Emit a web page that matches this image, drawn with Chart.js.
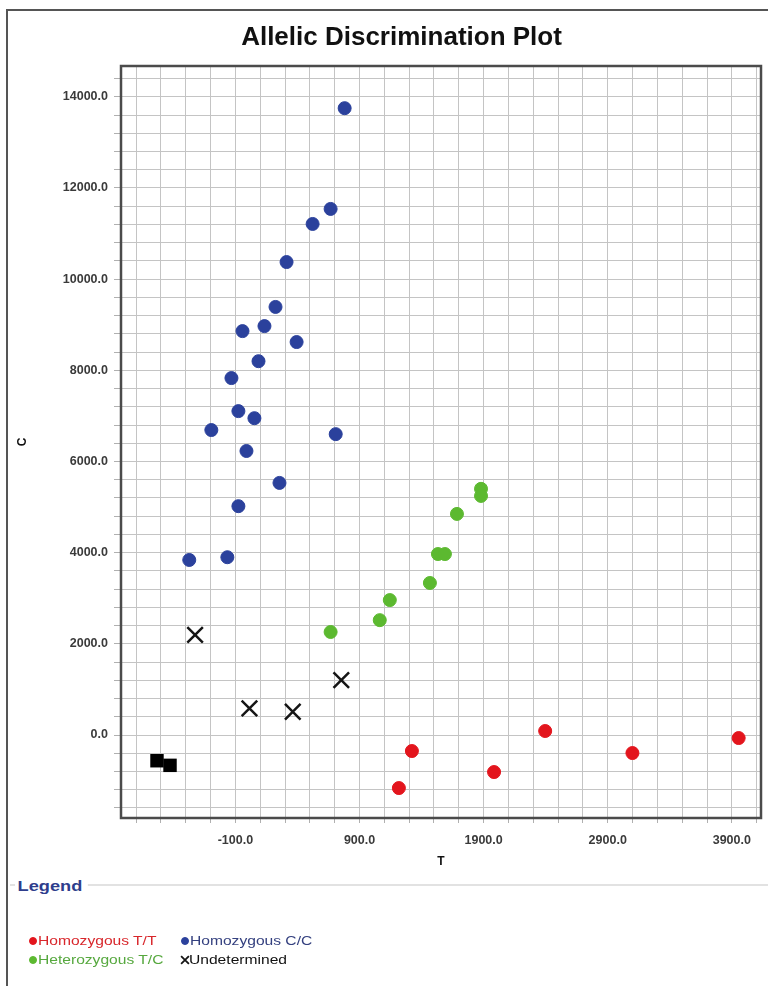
<!DOCTYPE html>
<html>
<head>
<meta charset="utf-8">
<script src="https://cdn.jsdelivr.net/npm/chart.js@4/dist/chart.umd.min.js"></script>
<style>
  html, body { margin: 0; padding: 0; background: #fff; }
  body { width: 768px; height: 986px; position: relative; overflow: hidden; font-family: 'Liberation Sans', Arial, sans-serif; }
  #frame { position: absolute; left: 6px; top: 9px; width: 780px; height: 1000px; border-top: 2px solid #555; border-left: 2px solid #555; }
  #chart { position: absolute; left: 0; top: 0; }
  #legendRule { position: absolute; left: 10px; top: 884px; width: 758px; height: 2px; background: #e2e2e2; }
  #legendTitle { position: absolute; left: 15px; top: 878px; padding: 0 4px 0 2px; background: #fff; font-weight: bold; font-size: 14px; line-height: 16px; color: #2e3d8c; transform: scaleX(1.3); transform-origin: left center; }
  .mark { position: absolute; }
  .txt { position: absolute; font-size: 13px; line-height: 16px; white-space: nowrap; transform: scaleX(1.2); transform-origin: left center; }
</style>
</head>
<body>
<div id="frame"></div>
<canvas id="chart" width="768" height="880"></canvas>
<div id="legendRule"></div>
<div id="legendTitle">Legend</div>
<div id="legend"></div>
<script>
// Homozygous T/T (red)
const ttX = [3955, 2396, 3099, 1322, 1984, 1217];
const ttY = [-66, 88, -395, -351, -812, -1163];

// Homozygous C/C (blue)
const ccX = [780, 667, 522, 312, 223, 134, -43, 393, 86, -132, -76, 53, -294, 708, -11, 255, -76, -165, -472];
const ccY = [13750, 11540, 11210, 10375, 9390, 8970, 8860, 8620, 8200, 7830, 7105, 6950, 6690, 6600, 6230, 5530, 5020, 3900, 3840];

// Heterozygous T/C (green)
const tcX = [1879, 1879, 1685, 1532, 1588, 1467, 1144, 1063, 667];
const tcY = [5400, 5245, 4850, 3970, 3970, 3335, 2960, 2520, 2260];

// Undetermined (x)
const undX = [-425, 753, 13, 362];
const undY = [2195, 1206, 586, 511];

// no template controls (black squares)
const ntcX = [-732, -627];
const ntcY = [-564, -665];

// axes
const xMin = -1022, xMax = 4135, xGridStep = 200;
const yMin = -1820, yMax = 14675, yGridStep = 400;
const xLabelTicks = [-100, 900, 1900, 2900, 3900];
const yLabelTicks = [0, 2000, 4000, 6000, 8000, 10000, 12000, 14000];

function toPoints(xs, ys) {
    return xs.map((x, i) => ({ x: x, y: ys[i] }));
}

// grid lines run through the labelled ticks every step
function gridValues(labels, step, min, max) {
    const out = [];
    let v = labels[0];
    while (v - step >= min) v -= step;
    for (; v <= max; v += step) out.push(v);
    return out;
}

const plotBorder = {
    id: 'plotBorder',
    beforeDatasetsDraw(chart) {
        const { ctx, chartArea: a } = chart;
        ctx.save();
        ctx.strokeStyle = '#4b4b4b';
        ctx.lineWidth = 2.5;
        ctx.strokeRect(a.left, a.top, a.right - a.left, a.bottom - a.top);
        ctx.restore();
    }
};

Chart.defaults.font.family = "'Liberation Sans', Arial, sans-serif";

const tickFont = { size: 12.5, weight: 'bold' };

const chart = new Chart(document.getElementById('chart').getContext('2d'), {
    type: 'scatter',
    data: {
        datasets: [
            {
                label: 'Homozygous T/T',
                data: toPoints(ttX, ttY),
                backgroundColor: '#e3151d',
                borderColor: '#e3151d',
                pointRadius: 6.5,
                borderWidth: 1,
                textColor: '#d8262b',
                inLegend: true,
            },
            {
                label: 'Homozygous C/C',
                data: toPoints(ccX, ccY),
                backgroundColor: '#2b419c',
                borderColor: '#2b419c',
                pointRadius: 6.5,
                borderWidth: 1,
                textColor: '#34407f',
                inLegend: true,
            },
            {
                label: 'Heterozygous T/C',
                data: toPoints(tcX, tcY),
                backgroundColor: '#5cb930',
                borderColor: '#5cb930',
                pointRadius: 6.5,
                borderWidth: 1,
                textColor: '#56a83e',
                inLegend: true,
            },
            {
                label: 'Undetermined',
                data: toPoints(undX, undY),
                pointStyle: 'crossRot',
                borderColor: '#151515',
                pointRadius: 11,
                borderWidth: 2.5,
                textColor: '#111',
                inLegend: true,
            },
            {
                label: 'NTC',
                data: toPoints(ntcX, ntcY),
                pointStyle: 'rect',
                backgroundColor: '#000',
                borderColor: '#000',
                pointRadius: 9.5,
                borderWidth: 0,
                inLegend: false,
            },
        ],
    },
    options: {
        responsive: false,
        animation: false,
        layout: { autoPadding: false, padding: { top: 12, left: 42, right: 7, bottom: 2 } },
        plugins: {
            legend: { display: false },
            tooltip: { enabled: false },
            title: {
                display: true,
                text: 'Allelic Discrimination Plot',
                color: '#111',
                font: { size: 26, weight: 'bold', lineHeight: 1.2 },
                padding: { top: 10, bottom: 12.8 },
            },
        },
        scales: {
            x: {
                type: 'linear',
                min: xMin,
                max: xMax,
                afterBuildTicks: (axis) => {
                    axis.ticks = gridValues(xLabelTicks, xGridStep, xMin, xMax).map(v => ({ value: v }));
                },
                afterFit: (axis) => {
                    axis.height = 60;
                    axis.paddingLeft = 0;
                    axis.paddingRight = 0;
                },
                ticks: {
                    autoSkip: false,
                    maxRotation: 0,
                    minRotation: 0,
                    padding: 10,
                    color: '#3a3a3a',
                    font: tickFont,
                    callback: (v) => xLabelTicks.includes(v) ? v.toFixed(1) : '',
                },
                grid: { color: '#c4c4c4', lineWidth: 1, tickLength: 5, tickColor: '#b0b0b0' },
                border: { display: false },
                title: {
                    display: true,
                    text: 'T',
                    color: '#111',
                    font: { size: 12, weight: 'bold' },
                    padding: { top: 0, bottom: 9 },
                },
            },
            y: {
                type: 'linear',
                min: yMin,
                max: yMax,
                afterBuildTicks: (axis) => {
                    axis.ticks = gridValues(yLabelTicks, yGridStep, yMin, yMax).map(v => ({ value: v }));
                },
                afterFit: (axis) => { axis.width = 79; },
                ticks: {
                    autoSkip: false,
                    padding: 6,
                    color: '#3a3a3a',
                    font: tickFont,
                    callback: (v) => yLabelTicks.includes(v) ? v.toFixed(1) : '',
                },
                grid: { color: '#c4c4c4', lineWidth: 1, tickLength: 7, tickColor: '#b0b0b0' },
                border: { display: false },
                title: {
                    display: true,
                    text: 'C',
                    color: '#111',
                    font: { size: 12, weight: 'bold' },
                    padding: { top: -27, bottom: 0 },
                },
            },
        },
    },
    plugins: [plotBorder],
});

// html legend in two columns, built from the datasets
const legendBox = document.getElementById('legend');
const colX = [33, 185];
const rowY = [941, 960];
chart.data.datasets.filter(ds => ds.inLegend).forEach((ds, i) => {
    const cx = colX[i % 2];
    const cy = rowY[Math.floor(i / 2)];
    const c = document.createElement('canvas');
    c.width = 14;
    c.height = 14;
    c.className = 'mark';
    c.style.left = (cx - 7) + 'px';
    c.style.top = (cy - 7) + 'px';
    const mctx = c.getContext('2d');
    const isCross = ds.pointStyle === 'crossRot';
    mctx.fillStyle = ds.backgroundColor || ds.borderColor;
    mctx.strokeStyle = ds.borderColor;
    mctx.lineWidth = isCross ? 1.8 : 1;
    Chart.helpers.drawPoint(mctx, {
        pointStyle: ds.pointStyle || 'circle',
        radius: isCross ? 5.5 : 3.5,
        rotation: 0,
        borderWidth: mctx.lineWidth,
    }, 7, 7);
    legendBox.appendChild(c);

    const t = document.createElement('div');
    t.className = 'txt';
    t.textContent = ds.label;
    t.style.color = ds.textColor;
    t.style.left = (cx + (isCross ? 4 : 5)) + 'px';
    t.style.top = (cy - 8) + 'px';
    legendBox.appendChild(t);
});
</script>
</body>
</html>
